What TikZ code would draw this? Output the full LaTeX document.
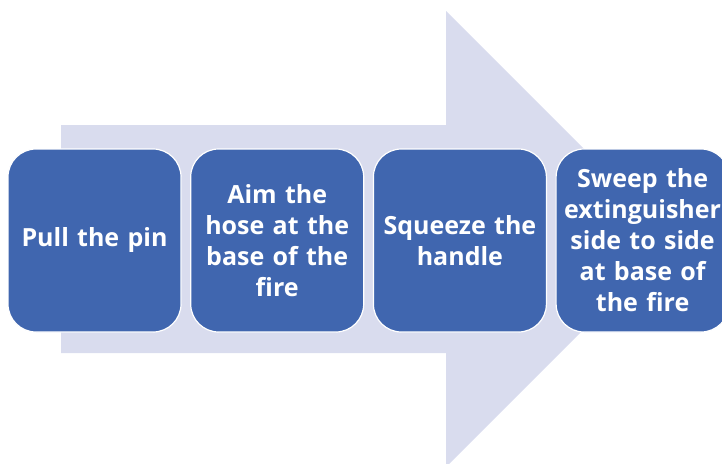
\documentclass[tikz,border=0pt]{standalone}
\usepackage{fontspec}
\setmainfont{Open Sans}
\usetikzlibrary{positioning}
\definecolor{StepBlue}{HTML}{4066AF}
\definecolor{ArrowLilac}{HTML}{D9DCEE}

\begin{document}
\begin{tikzpicture}[
    x=1pt,y=-1pt,
    node distance=8.5pt,
    stepbox/.style={draw=white,line width=1.2pt,rounded corners=28pt,fill=StepBlue,
      inner sep=2pt,minimum width=173pt,minimum height=183pt,text width=169pt,align=center,
      text=white,font=\bfseries\fontsize{25}{31}\selectfont},
    bigarrow/.style={fill=ArrowLilac}
  ]
    \useasboundingbox (0,0) rectangle (722,463);
    \clip (0,0) rectangle (722,463);
    % background arrow
    \path[bigarrow] (61,125) -- (446,125) -- (446,11) -- (674,239) -- (446,467)
      -- (446,353) -- (61,353) -- cycle;
    % steps
    \node[stepbox] (pull) at (94.5,240.5) {Pull the pin};
    \node[stepbox,right=of pull] (aim) {Aim the\\ hose at the\\ base of the\\ fire};
    \node[stepbox,right=of aim] (squeeze) {Squeeze the\\ handle};
    \node[stepbox,right=of squeeze] (sweep) {Sweep the\\ extinguisher\\ side to side\\ at base of\\ the fire};
  \end{tikzpicture}
\end{document}
